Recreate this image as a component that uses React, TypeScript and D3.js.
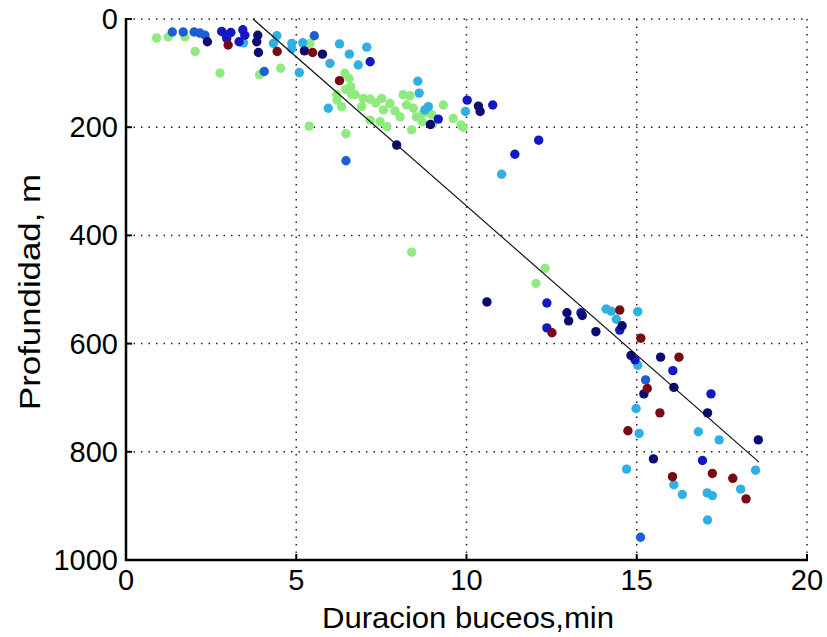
import React from "react";
import * as d3 from "d3";

// Dive data grouped by colour (duration min, depth m)
const greenPts: [number, number][] = [
  [0.9, 35], [1.24, 33], [1.73, 33], [2.03, 60], [2.76, 100], [3.92, 103], [4.54, 91], [5.4, 45],
  [6.43, 100], [6.55, 110], [5.38, 198], [6.46, 212], [8.39, 431], [12.31, 461], [12.04, 489],
  [6.19, 140], [6.63, 139], [6.73, 140], [6.97, 147], [7.17, 148], [7.51, 147], [7.75, 156],
  [8.14, 140], [8.34, 142], [8.24, 159], [8.44, 165], [7.56, 168], [6.92, 162], [6.33, 162],
  [7.17, 187], [7.46, 190], [7.66, 199], [8.05, 181], [8.39, 205], [8.53, 181], [8.73, 174],
  [8.98, 177], [9.32, 159], [9.61, 184], [9.84, 196], [7.34, 155], [6.6, 125], [6.45, 130],
  [7.9, 170], [9.0, 195], [8.7, 190], [6.2, 150], [9.9, 200],
];
const navyPts: [number, number][] = [
  [2.39, 42], [3.87, 30], [3.84, 42], [3.89, 62], [5.24, 59], [5.77, 65], [7.95, 233], [8.94, 195],
  [10.35, 161], [10.4, 171], [10.6, 523], [12.95, 543], [13.0, 558], [13.4, 548], [13.8, 578],
  [14.57, 567], [14.83, 622], [15.21, 693], [16.09, 681], [17.08, 728], [18.57, 778], [15.49, 813],
  [15.7, 625],
];
const bluePts: [number, number][] = [
  [2.81, 23], [2.94, 30], [3.08, 25], [2.96, 36], [3.32, 42], [3.43, 20], [3.49, 30], [7.17, 79],
  [9.17, 185], [10.02, 150], [10.77, 159], [11.42, 250], [12.12, 224], [12.36, 525], [12.36, 571],
  [13.36, 543], [14.5, 575], [16.06, 650], [17.18, 693], [16.93, 816], [14.95, 630],
];
const midBluePts: [number, number][] = [
  [1.36, 24], [1.68, 24], [2.0, 24], [2.17, 26], [2.32, 30], [4.06, 97], [5.53, 31], [6.46, 262],
  [15.11, 958], [15.26, 667],
];
const skyPts: [number, number][] = [
  [3.45, 44], [4.43, 31], [4.33, 45], [4.87, 45], [4.87, 55], [5.19, 44], [5.09, 99], [5.99, 82],
  [6.27, 46], [6.56, 65], [6.82, 85], [7.07, 52], [8.57, 115], [8.61, 137], [5.94, 165], [8.78, 168],
  [8.88, 162], [9.97, 171], [11.03, 287], [14.1, 536], [14.25, 540], [14.4, 555], [15.03, 541],
  [15.03, 640], [14.98, 720], [15.07, 766], [16.81, 763], [17.42, 778], [14.7, 832], [18.49, 834],
  [16.09, 861], [18.05, 869], [16.34, 879], [17.07, 876], [17.22, 881], [17.08, 926],
];
const darkRedPts: [number, number][] = [
  [3.0, 48], [4.44, 60], [5.48, 62], [6.27, 114], [12.51, 580], [14.5, 538], [15.12, 590],
  [15.31, 683], [15.68, 728], [14.74, 761], [17.22, 840], [16.05, 846], [17.82, 849], [18.21, 887],
  [16.24, 625],
];

const groups = [
  { pts: greenPts, color: "#8fea7f" },
  { pts: skyPts, color: "#2fb0e2" },
  { pts: midBluePts, color: "#1b5fd2" },
  { pts: bluePts, color: "#1219c4" },
  { pts: navyPts, color: "#0b0b72" },
  { pts: darkRedPts, color: "#7a0a12" },
];

const fitDur = [3.73, 18.59];
const fitDepth = [0, 819];

const xTicks = [0, 5, 10, 15, 20];
const yTicks = [0, 200, 400, 600, 800, 1000];

const W = 827, H = 637;
const L = 126, R = 807, T = 19, B = 560;

export default function App() {
  const x = d3.scaleLinear().domain([0, 20]).range([L, R]);
  const y = d3.scaleLinear().domain([0, 1000]).range([T, B]);
  const fit = d3.line<number>().x((_, i) => x(fitDur[i])).y((_, i) => y(fitDepth[i]));
  const font = "'Liberation Sans', Arial, sans-serif";
  return (
    <svg width={W} height={H} style={{ position: "absolute", left: 0, top: 0, background: "#fff" }}>
      <rect x={0} y={0} width={W} height={H} fill="#fff" />
      {/* grid */}
      {xTicks.filter((t) => t > 0).map((t) => (
        <line key={"gx" + t} x1={x(t)} x2={x(t)} y1={T} y2={B} stroke="#222" strokeWidth={1.5} strokeDasharray="1.5 6" />
      ))}
      {yTicks.filter((t) => t < 1000).map((t) => (
        <line key={"gy" + t} x1={L} x2={R} y1={y(t)} y2={y(t)} stroke="#222" strokeWidth={1.5} strokeDasharray="1.5 6" />
      ))}
      {/* points */}
      {groups.map((g, gi) =>
        g.pts.map((p, i) => (
          <circle key={gi + "-" + i} cx={x(p[0])} cy={y(p[1])} r={4.7} fill={g.color} />
        ))
      )}
      {/* fit line */}
      <path d={fit(fitDur) || ""} stroke="#111" strokeWidth={1.2} fill="none" />
      {/* axes */}
      <line x1={L} x2={L} y1={T - 1} y2={B + 1} stroke="#000" strokeWidth={2.5} />
      <line x1={L - 1} x2={R + 1} y1={B} y2={B} stroke="#000" strokeWidth={2.5} />
      {yTicks.map((t) => (
        <line key={"ty" + t} x1={L} x2={L + 6} y1={y(t)} y2={y(t)} stroke="#000" strokeWidth={2} />
      ))}
      {xTicks.map((t) => (
        <line key={"tx" + t} x1={x(t)} x2={x(t)} y1={B} y2={B - 6} stroke="#000" strokeWidth={2} />
      ))}
      {yTicks.map((t) => (
        <text key={"ly" + t} x={L - 8} y={y(t) + 10} textAnchor="end" fontFamily={font} fontSize={29} fill="#000">
          {t}
        </text>
      ))}
      {xTicks.map((t) => (
        <text key={"lx" + t} x={x(t)} y={590} textAnchor="middle" fontFamily={font} fontSize={29} fill="#000">
          {t}
        </text>
      ))}
      <text x={468} y={628} textAnchor="middle" fontFamily={font} fontSize={29} textLength={292} lengthAdjust="spacingAndGlyphs" fill="#000">
        Duracion buceos,min
      </text>
      <text transform={`translate(40,292) rotate(-90)`} textAnchor="middle" fontFamily={font} fontSize={29} textLength={236} lengthAdjust="spacingAndGlyphs" fill="#000">
        Profundidad, m
      </text>
    </svg>
  );
}
